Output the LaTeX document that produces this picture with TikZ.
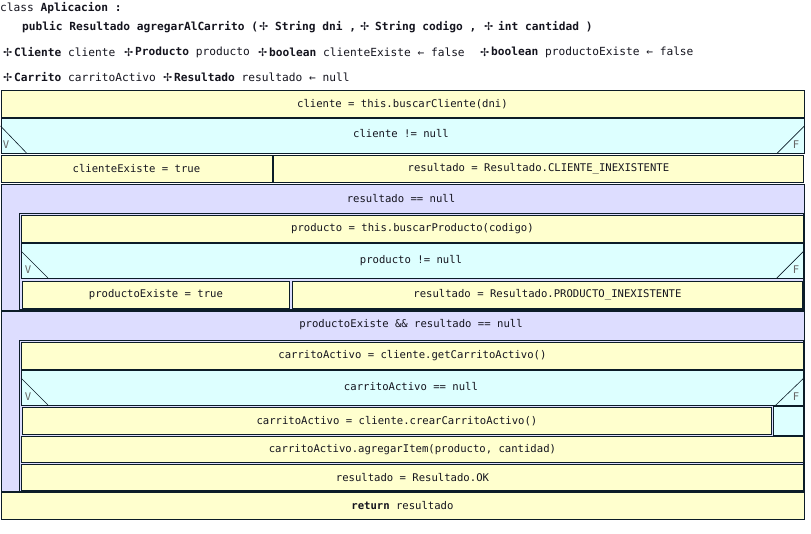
\documentclass[tikz,border=0pt]{standalone}
\usepackage{fontspec}
\setmainfont{DejaVu Sans Mono}
\newfontfamily\symfont{DejaVu Sans}
\definecolor{nsyel}{RGB}{255,255,206}
\definecolor{nscyan}{RGB}{221,255,255}
\definecolor{nslav}{RGB}{221,221,255}
\definecolor{nsline}{RGB}{12,28,40}
\definecolor{nstext}{RGB}{20,20,30}
\begin{document}
\begin{tikzpicture}[x=1pt,y=-1pt,
  every node/.style={font=\fontsize{10.6}{12}\selectfont, text=nstext},
  blk/.style={draw=nsline, line width=0.9pt, anchor=north west, inner sep=0pt},
  yelbox/.style={blk, fill=nsyel},
  cyanbox/.style={blk, fill=nscyan},
  lavbox/.style={blk, fill=nslav},
  hdr/.style={anchor=west, inner sep=0pt, font=\fontsize{11.2}{12}\selectfont},
  crs/.style={anchor=west, inner sep=0pt, font=\symfont\bfseries\fontsize{11}{12}\selectfont},
  diag/.style={draw=nsline, line width=0.6pt},
  vf/.style={text=gray!80!black, inner sep=0pt}]
\useasboundingbox (0,0) rectangle (811,534);
% header
\node[hdr] (h1) at (0,8) {class \textbf{Aplicacion :}};
\node[hdr] (h2a) at (22,27) {\textbf{public Resultado agregarAlCarrito (}};
\node[crs] (h2b) at (259,27) {✢};
\node[hdr] (h2c) at (275,27) {\textbf{String dni ,}};
\node[crs] (h2d) at (360,27) {✢};
\node[hdr] (h2e) at (375,27) {\textbf{String codigo ,}};
\node[crs] (h2f) at (484,27) {✢};
\node[hdr] (h2g) at (498,27) {\textbf{int cantidad )}};
\node[crs] (h3ac) at (3,52) {✢};
\node[hdr] (h3a) at (14,52) {\textbf{Cliente} cliente};
\node[crs] (h3bc) at (124,52) {✢};
\node[hdr] (h3b) at (135,52) {\textbf{Producto} producto};
\node[crs] (h3cc) at (258,52) {✢};
\node[hdr] (h3c) at (269,52) {\textbf{boolean} clienteExiste ← false};
\node[crs] (h3dc) at (480,52) {✢};
\node[hdr] (h3d) at (491,52) {\textbf{boolean} productoExiste ← false};
\node[crs] (h4ac) at (3,77) {✢};
\node[hdr] (h4a) at (14,77) {\textbf{Carrito} carritoActivo};
\node[crs] (h4bc) at (163,77) {✢};
\node[hdr] (h4b) at (174,77) {\textbf{Resultado} resultado ← null};
% first instruction
\node[yelbox, minimum width=803pt, minimum height=27pt] (a) at (0.5,90) {};
\node (at) at (a.center) {cliente = this.buscarCliente(dni)};
% if 1
\node[cyanbox, minimum width=803pt, minimum height=35pt] (if1) at (0.5,118) {};
\node (if1t) at (401,134) {cliente != null};
\draw[diag] (if1.north west) ++(0,8) -- ++(26,27);
\draw[diag] (if1.north east) ++(0,8) -- ++(-27,27);
\node[vf] (v1) at (6,145) {V};
\node[vf] (f1) at (796,145) {F};
\node[yelbox, minimum width=271pt, minimum height=27pt] (b1l) at (0.5,155) {};
\node (b1lt) at (b1l.center) {clienteExiste = true};
\node[yelbox, minimum width=530pt, minimum height=27pt] (b1r) at (273,155) {};
\node (b1rt) at (b1r.center) {resultado = Resultado.CLIENTE\_INEXISTENTE};
% while 1
\node[lavbox, minimum width=803pt, minimum height=126pt] (w1) at (0.5,184) {};
\node (w1t) at (401,199) {resultado == null};
\node[blk, fill=nslav, minimum width=784pt, minimum height=96pt] (w1body) at (19,213) {};
\node[yelbox, minimum width=782pt, minimum height=27pt] (p) at (21,215) {};
\node (pt) at (p.center) {producto = this.buscarProducto(codigo)};
\node[cyanbox, minimum width=782pt, minimum height=35pt] (if2) at (21,243) {};
\node (if2t) at (411,261) {producto != null};
\draw[diag] (if2.north west) ++(0,8) -- ++(27,27);
\draw[diag] (if2.north east) ++(0,8) -- ++(-27,27);
\node[vf] (v2) at (28,270) {V};
\node[vf] (f2) at (796,270) {F};
\node[yelbox, minimum width=267pt, minimum height=27pt] (b2l) at (22,281) {};
\node (b2lt) at (b2l.center) {productoExiste = true};
\node[yelbox, minimum width=510pt, minimum height=27pt] (b2r) at (292,281) {};
\node (b2rt) at (b2r.center) {resultado = Resultado.PRODUCTO\_INEXISTENTE};
% while 2
\node[lavbox, minimum width=803pt, minimum height=180pt] (w2) at (0.5,311) {};
\node (w2t) at (411,325) {productoExiste \&\& resultado == null};
\node[blk, fill=nslav, minimum width=784pt, minimum height=151pt] (w2body) at (19,340) {};
\node[yelbox, minimum width=782pt, minimum height=27pt] (c) at (21,342) {};
\node (ct) at (c.center) {carritoActivo = cliente.getCarritoActivo()};
\node[cyanbox, minimum width=782pt, minimum height=35pt] (if3) at (21,370) {};
\node (if3t) at (411,387) {carritoActivo == null};
\draw[diag] (if3.north west) ++(0,8) -- ++(27,27);
\draw[diag] (if3.north east) ++(0,8) -- ++(-28,27);
\node[vf] (v3) at (28,397) {V};
\node[vf] (f3) at (796,397) {F};
\node[yelbox, minimum width=749pt, minimum height=27pt] (b3l) at (22,407) {};
\node (b3lt) at (b3l.center) {carritoActivo = cliente.crearCarritoActivo()};
\node[cyanbox, minimum width=30pt, minimum height=29pt] (b3r) at (773,405.5) {};
\node[yelbox, minimum width=782pt, minimum height=26pt] (d) at (21,436) {};
\node (dt) at (d.center) {carritoActivo.agregarItem(producto, cantidad)};
\node[yelbox, minimum width=782pt, minimum height=26pt] (e) at (21,464) {};
\node (et) at (e.center) {resultado = Resultado.OK};
% return
\node[yelbox, minimum width=803pt, minimum height=27pt] (r) at (0.5,492) {};
\node (rt) at (r.center) {\textbf{return} resultado};
\end{tikzpicture}
\end{document}
